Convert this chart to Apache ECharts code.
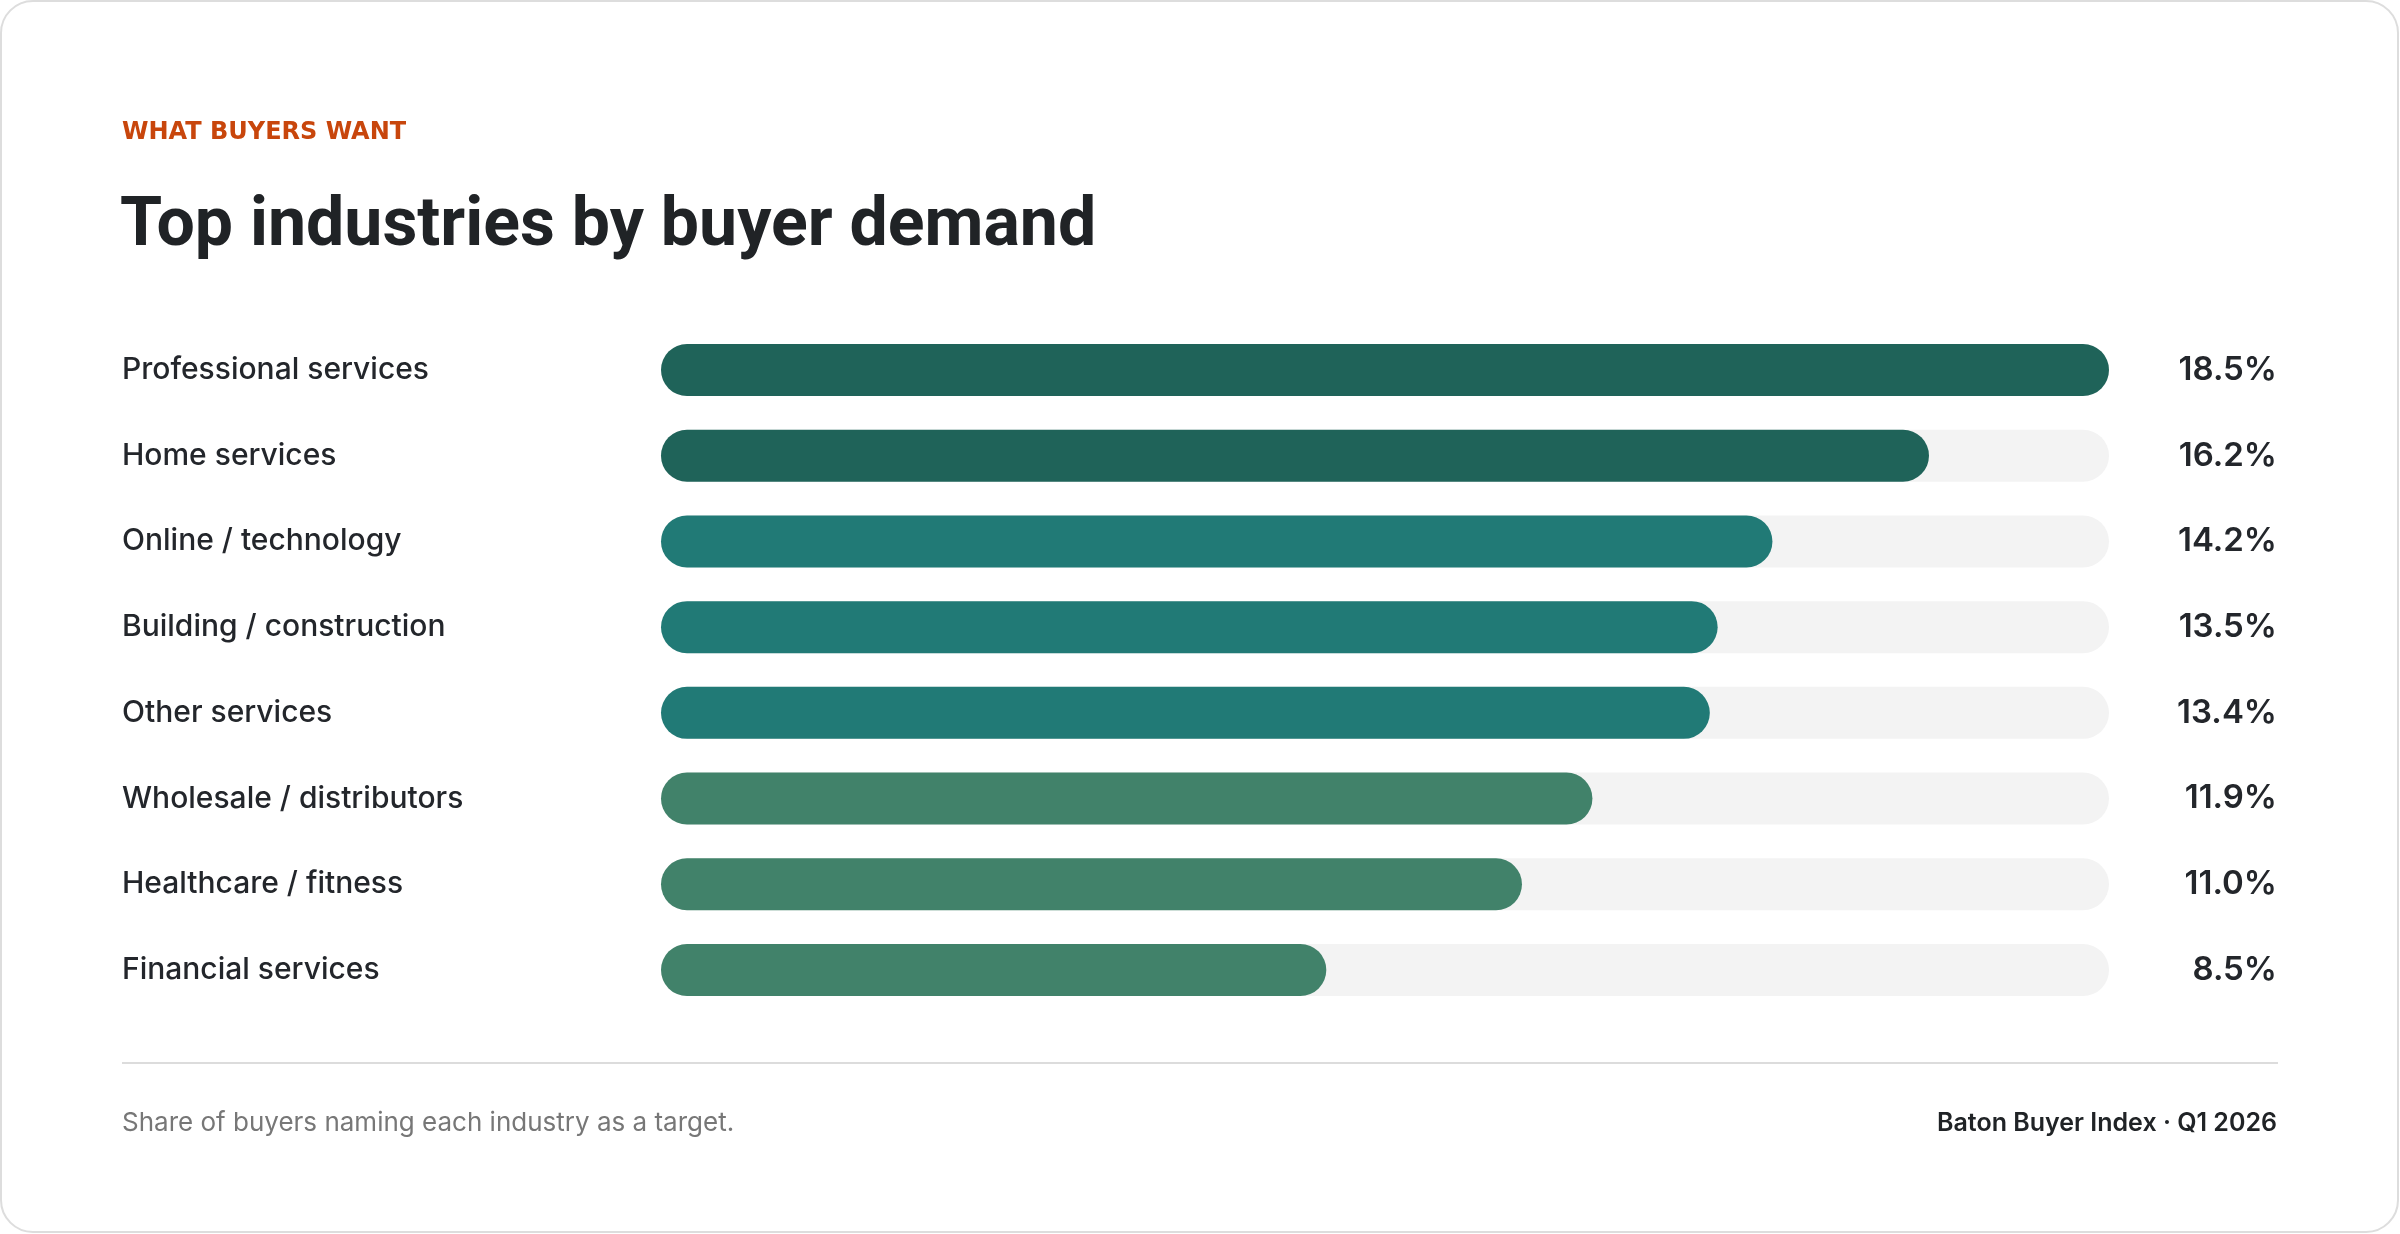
<!DOCTYPE html>
<html>
<head>
<meta charset="utf-8">
<script src="https://cdn.jsdelivr.net/npm/echarts@6/dist/echarts.min.js"></script>
<style>
  html,body{margin:0;padding:0;background:#ffffff;}
  #chart{width:2400px;height:1234px;}
</style>
</head>
<body>
<div id="chart"></div>
<script>
const categories = [
  'Professional services',
  'Home services',
  'Online / technology',
  'Building / construction',
  'Other services',
  'Wholesale / distributors',
  'Healthcare / fitness',
  'Financial services'
];
const values = [18.5, 16.2, 14.2, 13.5, 13.4, 11.9, 11.0, 8.5];
const valueLabels = ['18.5%', '16.2%', '14.2%', '13.5%', '13.4%', '11.9%', '11.0%', '8.5%'];
const eyebrow = 'WHAT BUYERS WANT';
const titleText = 'Top industries by buyer demand';
const footnote = 'Share of buyers naming each industry as a target.';
const sourceText = 'Baton Buyer Index · Q1 2026';

const barColors = ['#1f6359', '#1f6359', '#217a76', '#217a76', '#217a76', '#41826a', '#41826a', '#41826a'];
const FONT = 'Inter, "Noto Sans", sans-serif';

const chart = echarts.init(document.getElementById('chart'), null, {renderer: 'canvas'});

const option = {
  backgroundColor: '#ffffff',
  animation: false,
  grid: {left: 661, right: 291, top: 327.15, bottom: 221.15, containLabel: false},
  xAxis: {
    type: 'value', min: 0, max: 18.5,
    show: false
  },
  yAxis: [
    {
      type: 'category', data: categories, inverse: true,
      axisLine: {show: false}, axisTick: {show: false}, splitLine: {show: false},
      axisLabel: {
        align: 'left', margin: 539,
        fontFamily: FONT, fontSize: 30, fontWeight: 500, color: '#23262b'
      }
    },
    {
      type: 'category', data: valueLabels, inverse: true, position: 'right',
      axisLine: {show: false}, axisTick: {show: false}, splitLine: {show: false},
      axisLabel: {
        align: 'right', margin: 168,
        fontFamily: FONT, fontSize: 33, fontWeight: 600, color: '#23262b'
      }
    }
  ],
  series: [{
    type: 'bar',
    yAxisIndex: 0,
    barWidth: 52,
    showBackground: true,
    backgroundStyle: {color: '#f3f3f3', borderRadius: 26},
    data: values.map((v, i) => ({value: v, itemStyle: {color: barColors[i]}})),
    itemStyle: {borderRadius: 26}
  }],
  graphic: [
    {
      type: 'rect', silent: true, z: -10,
      shape: {x: 1, y: 1, width: 2397, height: 1231, r: 32},
      style: {fill: '#ffffff', stroke: '#dddddd', lineWidth: 2}
    },
    {
      type: 'text', x: 122, y: 133,
      style: {text: eyebrow, font: 'bold 24px "DejaVu Sans", sans-serif', fill: '#c8460c', align: 'left', verticalAlign: 'middle'}
    },
    {
      type: 'text', x: 120, y: 228,
      style: {text: titleText, font: 'bold 68px Roboto, Inter, sans-serif', fill: '#202326', align: 'left', verticalAlign: 'middle'}
    },
    {
      type: 'line', silent: true,
      shape: {x1: 122, y1: 1063, x2: 2278, y2: 1063},
      style: {stroke: '#dcdcdc', lineWidth: 2}
    },
    {
      type: 'text', x: 122, y: 1123,
      style: {text: footnote, font: '400 26px ' + FONT, fill: '#777777', align: 'left', verticalAlign: 'middle'}
    },
    {
      type: 'text', x: 2277, y: 1123,
      style: {text: sourceText, font: '600 25px ' + FONT, fill: '#202326', align: 'right', verticalAlign: 'middle'}
    }
  ]
};
chart.setOption(option);
</script>
</body>
</html>
